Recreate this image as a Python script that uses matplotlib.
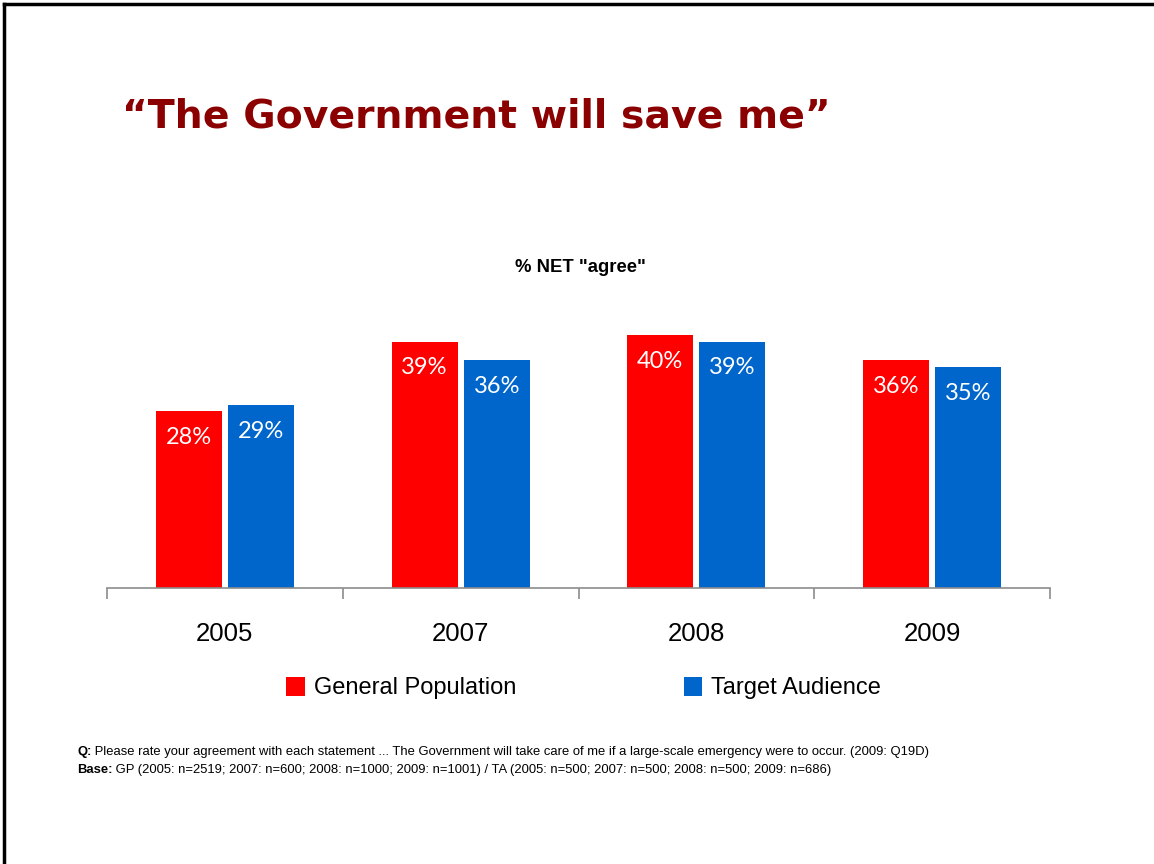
import matplotlib
matplotlib.use("Agg")
import matplotlib.pyplot as plt
from matplotlib.lines import Line2D
from matplotlib.patches import Patch
from matplotlib.transforms import blended_transform_factory
import numpy as np

# Survey results: % NET "agree"
years = ["2005", "2007", "2008", "2009"]
general_population = [28, 39, 40, 36]
target_audience = [29, 36, 39, 35]
series_names = ["General Population", "Target Audience"]

title = "\u201cThe Government will save me\u201d"
subtitle = '% NET "agree"'
note_q_label = "Q:"
note_q_text = (" Please rate your agreement with each statement ... The Government will take care "
               "of me if a large-scale emergency were to occur. (2009: Q19D)")
note_base_label = "Base:"
note_base_text = (" GP (2005: n=2519; 2007: n=600; 2008: n=1000; 2009: n=1001) / TA (2005: n=500; "
                  "2007: n=500; 2008: n=500; 2009: n=686)")

RED = "#FF0000"
BLUE = "#0066CC"
TITLE_RED = "#8B0000"
SANS = ["Liberation Sans", "DejaVu Sans"]
LABEL_FONT = ["Lato", "DejaVu Sans"]

W, H = 1154, 864
fig = plt.figure(figsize=(W / 100, H / 100), dpi=100)
fig.patch.set_facecolor("white")

# slide frame: top and left edges
fig.add_artist(Line2D([3.5 / W, 1.0], [1 - 3.5 / H, 1 - 3.5 / H], color="black", lw=2.5,
                      transform=fig.transFigure))
fig.add_artist(Line2D([3.5 / W, 3.5 / W], [0, 1 - 3.5 / H], color="black", lw=2.5,
                      transform=fig.transFigure))

# title
fig.text(122 / W, 1 - 128 / H, title, color=TITLE_RED, fontsize=28.4, fontweight="bold",
         family="DejaVu Sans", ha="left", va="baseline")

# chart axes
ymax = 45
ax_left, ax_right = 107 / W, 1050 / W
ax_bottom = 1 - 588 / H
ax_top = 1 - (588 - 6.32 * ymax) / H
ax = fig.add_axes([ax_left, ax_bottom, ax_right - ax_left, ax_top - ax_bottom])
ax.set_xlim(-0.5, len(years) - 0.5)
ax.set_ylim(0, ymax)

x = np.arange(len(years))
bw = 0.28
off = 0.153
bars_gp = ax.bar(x - off, general_population, width=bw, color=RED, label=series_names[0])
bars_ta = ax.bar(x + off, target_audience, width=bw, color=BLUE, label=series_names[1])

for bars, vals in ((bars_gp, general_population), (bars_ta, target_audience)):
    for b, v in zip(bars, vals):
        ax.annotate(f"{v}%", xy=(b.get_x() + b.get_width() / 2, v), xytext=(0, -19),
                    textcoords="offset points", ha="center", va="center",
                    color="white", fontsize=17, fontweight="normal", family=LABEL_FONT)

for s in ("top", "right", "left"):
    ax.spines[s].set_visible(False)
ax.spines["bottom"].set_color("#8c8c8c")
ax.spines["bottom"].set_linewidth(1.2)
ax.set_yticks([])
ax.set_xticks(np.arange(-0.5, len(years), 1.0))
ax.set_xticklabels([])
ax.tick_params(axis="x", length=8, width=1.2, color="#8c8c8c", direction="out")

trans = blended_transform_factory(ax.transData, fig.transFigure)
for xi, yr in zip(x, years):
    ax.text(xi, 1 - 634 / H, yr, transform=trans, ha="center", va="center",
            fontsize=18.5, family=SANS, color="black")

# subtitle
fig.text(580 / W, 1 - 267 / H, subtitle, ha="center", va="center", fontsize=13.3,
         fontweight="bold", family=SANS)

# legend
handles = [Patch(facecolor=RED, edgecolor="none"), Patch(facecolor=BLUE, edgecolor="none")]
fig.legend(handles, series_names, loc="center", bbox_to_anchor=(583.5 / W, 1 - 688 / H),
           ncol=2, frameon=False, prop={"family": SANS, "size": 17},
           handlelength=0.78, handleheight=0.85, handletextpad=0.38, columnspacing=7.1)

# footnotes
qb = fig.text(77 / W, 1 - 755 / H, note_q_label, fontsize=9.4, fontweight="bold",
              family=SANS, ha="left", va="baseline")
fig.add_artist(plt.Annotation(note_q_text, xy=(1, 0), xycoords=qb, fontsize=9.4,
                              family=SANS, ha="left", va="bottom"))
bb = fig.text(77 / W, 1 - 773 / H, note_base_label, fontsize=9.4, fontweight="bold",
              family=SANS, ha="left", va="baseline")
fig.add_artist(plt.Annotation(note_base_text, xy=(1, 0), xycoords=bb, fontsize=9.4,
                              family=SANS, ha="left", va="bottom"))

fig.savefig("out.png", dpi=100, facecolor="white")
